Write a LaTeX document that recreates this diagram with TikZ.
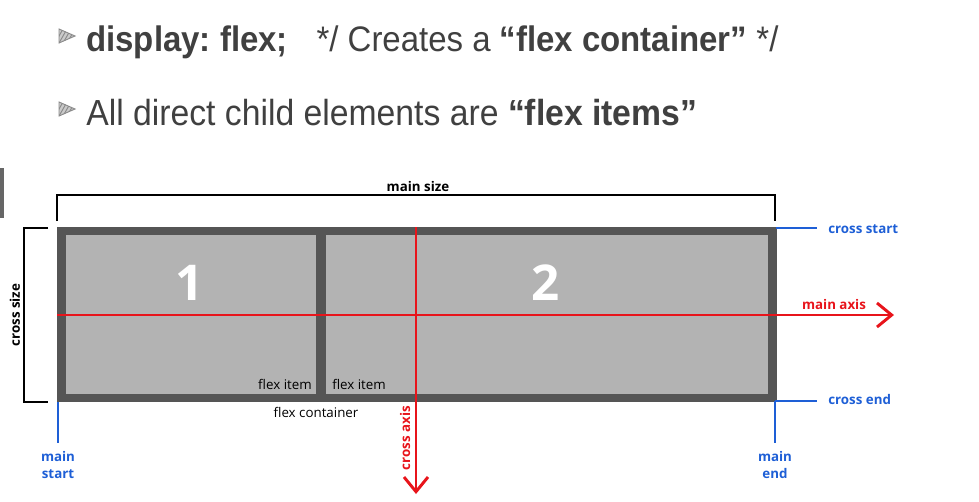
\documentclass[tikz,border=0pt]{standalone}
\usepackage{fontspec}
\setmainfont{Liberation Sans}[FakeStretch=0.93]
\newfontfamily\osans{Open Sans}
\usetikzlibrary{arrows.meta}
\definecolor{frame}{HTML}{555555}
\definecolor{item}{HTML}{B3B3B3}
\definecolor{axisred}{HTML}{E8141B}
\definecolor{lblue}{HTML}{1E5FD6}
\definecolor{slidetxt}{HTML}{404040}
\definecolor{bulletgray}{HTML}{8A8A8A}
\tikzset{
  bigtxt/.style={font=\fontsize{27.2}{31}\selectfont\frenchspacing, text=slidetxt, anchor=base west, inner sep=0pt},
  diag/.style={font=\osans\fontsize{10}{11.5}\selectfont, inner sep=0pt},
  bluelbl/.style={diag, font=\osans\bfseries\fontsize{10}{12.6}\selectfont, text=lblue, align=center},
  redlbl/.style={diag, font=\osans\bfseries\fontsize{10}{11.5}\selectfont, text=axisred},
  sizelbl/.style={diag, font=\osans\bfseries\fontsize{10}{11.5}\selectfont},
  bluel/.style={draw=lblue, line width=1.8pt},
  redaxis/.style={draw=axisred, line width=2.2pt, -{Straight Barb[length=11pt,width=18pt,line width=2.2pt]}},
  brack/.style={draw=black, line width=0.9pt},
  numtxt/.style={font=\osans\bfseries\fontsize{37}{40}\selectfont, text=white, inner sep=0pt},
  bulletmark/.style={draw=bulletgray, line width=0.7pt}
}
\newcommand{\slidebullet}[2]{%
  \begin{scope}[shift={(#1,#2)}]
    \fill[bulletgray!45] (0,0) -- (16,7) -- (0,14) -- cycle;
    \begin{scope}
      \clip (0,0) -- (16,7) -- (0,14) -- cycle;
      \foreach \k in {-4,0,4,8,12,16} {\draw[bulletmark] (\k,14) -- (\k+8,0);}
    \end{scope}
    \draw[bulletmark] (0,0) -- (16,7) -- (0,14) -- cycle;
  \end{scope}}
\begin{document}
\begin{tikzpicture}[x=0.75pt,y=-0.75pt]
\useasboundingbox (0,0) rectangle (979,501);
% slide bullets and text
\slidebullet{59}{29}
\slidebullet{59}{102}
\node[bigtxt, font=\fontsize{26.6}{30}\selectfont\frenchspacing] (l1) at (86,51) {\textbf{display: flex;}\hspace{0.55em} */ Creates a \textbf{“flex container”} */};
\node[bigtxt] (l2) at (86,125) {All direct child elements are \textbf{“flex items”}};
% left slide bar
\fill[color=frame!90] (0,168) rectangle (4,218);
% container
\fill[frame] (57,227) rectangle (777,402);
\fill[item] (66,235) rectangle (316,394);
\fill[item] (326,235) rectangle (768,394);
\node[numtxt] (n1) at (190,283) {1};
\node[numtxt] (n2) at (546,283) {2};
\node[diag, anchor=base east] (fi1) at (312,389) {flex item};
\node[diag, anchor=base west] (fi2) at (332,389) {flex item};
\node[diag] (fc) at (316,412) {flex container};
% main size bracket
\coordinate (msl) at (57,221);
\coordinate (msr) at (775,221);
\draw[brack] (msl) -- (57,195) -- (775,195) -- (msr);
\node[sizelbl] (ms) at (418,186) {main size};
% cross size bracket
\coordinate (cst) at (48,228);
\coordinate (csb) at (48,402);
\draw[brack] (cst) -- (24,228) -- (24,402) -- (csb);
\node[sizelbl, rotate=90] (cs) at (15,315) {cross size};
% blue markers
\coordinate (cs0) at (776,228);
\coordinate (cs1) at (817,228);
\draw[bluel] (cs0) -- (cs1);
\node[bluelbl, anchor=west] (crossstart) at (828,229) {cross start};
\coordinate (ce0) at (775,401);
\coordinate (ce1) at (817,401);
\draw[bluel] (ce0) -- (ce1);
\node[bluelbl, anchor=west] (crossend) at (828,399) {cross end};
\coordinate (me1) at (775,443);
\draw[bluel] (ce0) -- (me1);
\node[bluelbl] (mainend) at (775,465) {main\\end};
\coordinate (ms0) at (58,402);
\coordinate (ms1) at (58,443);
\draw[bluel] (ms0) -- (ms1);
\node[bluelbl] (mainstart) at (58,465) {main\\start};
% axes
\coordinate (ma0) at (57,315);
\coordinate (ma1) at (894,315);
\draw[redaxis] (ma0) -- (ma1);
\node[redlbl] (mal) at (834,304) {main axis};
\coordinate (ca0) at (416,227);
\coordinate (ca1) at (416,494);
\draw[redaxis] (ca0) -- (ca1);
\node[redlbl, rotate=90] (cal) at (405,438) {cross axis};
\end{tikzpicture}
\end{document}
